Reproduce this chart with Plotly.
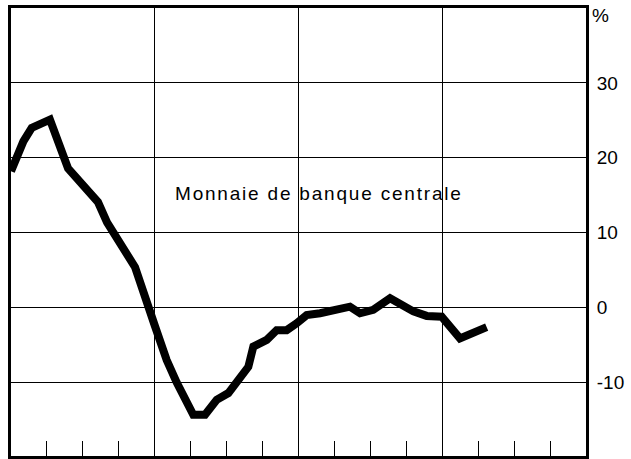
import plotly.graph_objects as go

# time in years from chart start, growth rate in %
t = [0.0, 0.051, 0.086, 0.144, 0.271, 0.397, 0.605, 0.668, 0.758, 0.863,
     1.002, 1.083, 1.153, 1.268, 1.350, 1.431, 1.512, 1.593, 1.651, 1.686,
     1.779, 1.848, 1.918, 1.987, 2.057, 2.150, 2.219, 2.358, 2.428, 2.520,
     2.637, 2.799, 2.892, 2.996, 3.123, 3.309]
vals = [18.2, 20.7, 22.2, 24.0, 25.1, 18.6, 14.1, 11.4, 8.6, 5.4,
        -2.5, -7.0, -10.0, -14.3, -14.3, -12.3, -11.4, -9.2, -7.9, -5.2,
        -4.3, -3.0, -3.0, -2.1, -1.0, -0.75, -0.4, 0.13, -0.75, -0.3,
        1.25, -0.5, -1.1, -1.2, -4.1, -2.6]
y_ticks = [-10, 0, 10, 20, 30]
y_labels = ["-10", "0", "10", "20", "30"]
label = "Monnaie de banque centrale"
unit = "%"

FONT = "Liberation Sans, Arial, sans-serif"

fig = go.Figure()
fig.add_trace(go.Scatter(x=t, y=vals, mode="lines",
                         line=dict(color="black", width=8),
                         hoverinfo="skip", showlegend=False))

fig.add_annotation(x=2.14, y=15.2, xref="x", yref="y",
                   text='<span style="letter-spacing:1.8px">' + label + '</span>',
                   showarrow=False, font=dict(size=19, color="black", family=FONT))
fig.add_annotation(x=1.0, xref="paper", xanchor="left", xshift=4,
                   y=39.0, yref="y", text=unit, showarrow=False,
                   font=dict(size=19, color="black", family=FONT))

fig.update_layout(
    width=631, height=459,
    margin=dict(l=11, r=45, t=8, b=3),
    paper_bgcolor="white", plot_bgcolor="white",
    font=dict(family=FONT, size=19, color="black"),
)
fig.update_xaxes(range=[0, 4], dtick=1, tick0=0, showgrid=True, gridcolor="black",
                 gridwidth=1, ticks="", showticklabels=False, zeroline=False,
                 showline=True, linecolor="black", linewidth=3, mirror=True,
                 minor=dict(dtick=0.25, tick0=0, ticks="inside", ticklen=15,
                            tickcolor="black", tickwidth=1, showgrid=False))
fig.update_yaxes(range=[-19.8, 40], side="right", tickvals=y_ticks, ticktext=y_labels,
                 showgrid=True, gridcolor="black", gridwidth=1, ticks="",
                 zeroline=False, showline=True, linecolor="black", linewidth=3,
                 mirror=True, ticklabelstandoff=4,
                 tickfont=dict(size=19, color="black", family=FONT))

fig.write_html("out.html", config={"displayModeBar": False},
               post_script="document.body.style.margin='0';")
